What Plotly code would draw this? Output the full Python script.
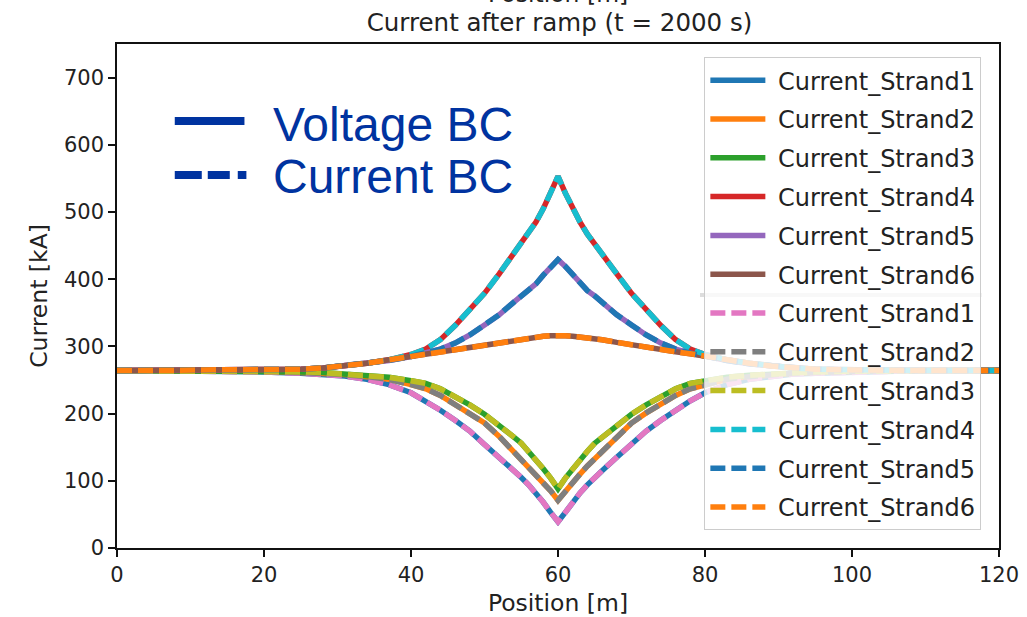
import plotly.graph_objects as go

# Position along the conductor [m]
position = [0, 10, 15, 20, 25, 28, 31, 34, 37, 40, 42, 44, 46, 48, 50, 52, 54, 55, 56, 57, 58, 59, 60,
            61, 62, 63, 64, 65, 66, 68, 70, 72, 74, 76, 78, 80, 83, 86, 89, 92, 95, 100, 105, 110, 120]

# Strand currents [kA] (Voltage BC and Current BC curves overlap)
strand1 = [264, 264, 263, 262, 260, 259, 256, 251, 243, 231, 219, 205, 190, 174, 154, 135, 115, 105, 94, 82, 68, 53, 39,
           53, 68, 82, 94, 105, 115, 135, 154, 174, 190, 205, 219, 231, 243, 251, 256, 259, 260, 262, 263, 264, 264]
strand2 = [264, 264, 264, 263, 261, 260, 258, 255, 251, 243, 237, 227, 214, 201, 186, 166, 143, 133, 122, 110, 97, 85, 71,
           85, 97, 110, 122, 133, 143, 166, 186, 201, 214, 227, 237, 243, 251, 255, 258, 260, 261, 263, 264, 264, 264]
strand3 = [264, 264, 264, 263, 262, 261, 259, 257, 254, 249, 245, 237, 226, 213, 199, 183, 165, 156, 144, 131, 118, 104, 88,
           104, 118, 131, 144, 156, 165, 183, 199, 213, 226, 237, 245, 249, 254, 257, 259, 261, 262, 263, 264, 264, 264]
strand4 = [264, 264, 264, 265, 266, 268, 271, 275, 280, 288, 296, 310, 331, 354, 379, 408, 438, 453, 467, 485, 505, 528, 553,
           528, 505, 485, 467, 453, 438, 408, 379, 354, 331, 310, 296, 288, 280, 275, 271, 268, 266, 265, 264, 264, 264]
strand5 = [264, 264, 264, 265, 266, 268, 271, 274, 279, 285, 290, 296, 305, 317, 332, 347, 366, 375, 383, 393, 406, 419, 429,
           419, 406, 393, 383, 375, 366, 347, 332, 317, 305, 296, 290, 285, 279, 274, 271, 268, 266, 265, 264, 264, 264]
strand6 = [264, 264, 264, 265, 266, 268, 271, 275, 280, 285, 289, 292, 296, 299, 302, 306, 310, 311, 312, 314, 315, 316, 317,
           316, 315, 314, 312, 311, 310, 306, 302, 299, 296, 292, 289, 285, 280, 275, 271, 268, 266, 265, 264, 264, 264]

voltage_bc = [strand1, strand2, strand3, strand4, strand5, strand6]
current_bc = [strand1, strand2, strand3, strand4, strand5, strand6]
names = ["Current_Strand1", "Current_Strand2", "Current_Strand3",
         "Current_Strand4", "Current_Strand5", "Current_Strand6"]

solid_colors = ["#1f77b4", "#ff7f0e", "#2ca02c", "#d62728", "#9467bd", "#8c564b"]
dashed_colors = ["#e377c2", "#7f7f7f", "#bcbd22", "#17becf", "#1f77b4", "#ff7f0e"]

fig = go.Figure()
for i, (name, vals) in enumerate(zip(names, voltage_bc)):
    fig.add_trace(go.Scatter(x=position, y=vals, mode="lines", name=" " + name,
                             legendgroup=f"v{i}",
                             line=dict(color=solid_colors[i], width=5.5)))
for i, (name, vals) in enumerate(zip(names, current_bc)):
    fig.add_trace(go.Scatter(x=position, y=vals, mode="lines", name=" " + name,
                             legendgroup=f"c{i}",
                             line=dict(color=dashed_colors[i], width=5.5, dash="15px,6px")))

tick_font = dict(family="DejaVu Sans", size=21, color="#222222")
axis_common = dict(showline=True, mirror=True, linecolor="#111111", linewidth=1.5,
                   ticks="outside", ticklen=7, tickwidth=1.5, tickcolor="#111111",
                   showgrid=False, zeroline=False, tickfont=tick_font, automargin=False)
label_font = dict(family="DejaVu Sans", size=23.5, color="#222222")

fig.update_layout(
    width=1027, height=617,
    margin=dict(l=117, r=28, t=44, b=69),
    paper_bgcolor="white", plot_bgcolor="white",
    title=dict(text="Current after ramp (t = 2000 s)", x=0.5448, xanchor="center",
               y=0.964, yanchor="middle",
               font=dict(family="DejaVu Sans", size=24.5, color="#222222")),
    xaxis=dict(range=[0, 120], dtick=20, **axis_common,
               title=dict(text="Position [m]", standoff=13, font=label_font)),
    yaxis=dict(range=[0, 750], dtick=100, **axis_common,
               title=dict(text="Current [kA]", standoff=10, font=label_font)),
    legend=dict(x=0.980, xanchor="right", y=0.974, yanchor="top",
                bgcolor="rgba(255,255,255,0.8)", bordercolor="#cccccc", borderwidth=1,
                font=dict(family="DejaVu Sans", size=24, color="#222222"),
                tracegroupgap=4.6, itemwidth=55),
    showlegend=True,
)

# clipped label of the subplot above
fig.add_annotation(text="Position [m]", x=0.5, xref="paper", y=1.068, yref="paper",
                   xanchor="center", yanchor="bottom", showarrow=False, font=label_font)

blue = "#0033a0"
fig.add_annotation(text="Voltage BC", x=0.175, xref="paper", y=0.841, yref="paper",
                   xanchor="left", yanchor="middle", showarrow=False,
                   font=dict(family="Liberation Sans", size=48, color=blue))
fig.add_annotation(text="Current BC", x=0.175, xref="paper", y=0.738, yref="paper",
                   xanchor="left", yanchor="middle", showarrow=False,
                   font=dict(family="Liberation Sans", size=48, color=blue))
fig.add_shape(type="line", xref="paper", yref="paper", x0=0.0655, x1=0.1445,
              y0=0.847, y1=0.847, line=dict(color=blue, width=8))
fig.add_shape(type="line", xref="paper", yref="paper", x0=0.0655, x1=0.1467,
              y0=0.740, y1=0.740, line=dict(color=blue, width=8, dash="27px,6px,22px,8px,9px,200px"))
# divider seen between the two halves of the legend
fig.add_shape(type="rect", xref="paper", yref="paper", x0=0.661, x1=0.980,
              y0=0.498, y1=0.506, line=dict(width=0), fillcolor="#dddddd", layer="above")

fig.write_html("out.html")
